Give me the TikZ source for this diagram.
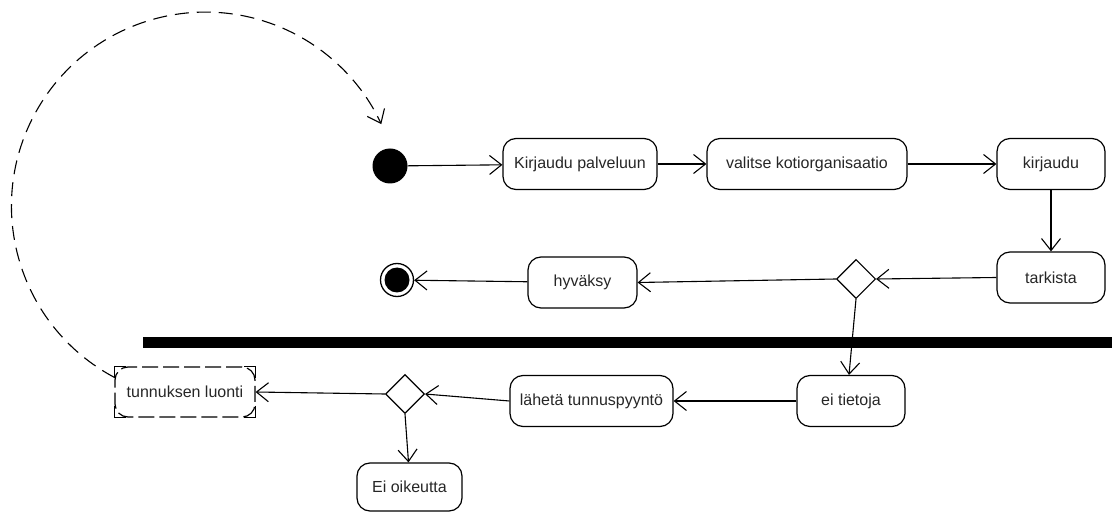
\documentclass[tikz,border=0pt]{standalone}
\usepackage{fontspec}
\setmainfont{Liberation Sans}
\usetikzlibrary{arrows.meta,shapes.geometric}
\begin{document}
\begin{tikzpicture}[x=1pt,y=-1pt,
  action/.style={draw,rounded corners=13pt,line width=1.2pt,minimum height=51pt,
    inner sep=0pt,font=\fontsize{16}{19}\selectfont,text=black!85},
  choice/.style={draw,diamond,line width=1.1pt,minimum width=39pt,minimum height=39pt,
    inner sep=0pt},
  flow/.style={line width=1.1pt,-{Straight Barb[length=12pt,width=19pt,line width=1.1pt]}},
  corner/.style={line width=1.1pt},
]
\useasboundingbox (0,0) rectangle (1112,513);

% start and end states
\node[fill=black,circle,minimum size=35pt,inner sep=0pt] (start) at (390,166) {};
\node[circle,draw,line width=1.3pt,minimum size=33pt,inner sep=0pt] (end) at (397,280) {};
\fill (end.center) circle[radius=12.5pt];

% actions of the upper lane
\node[action,minimum width=154pt] (login) at (580,164) {Kirjaudu palveluun};
\node[action,minimum width=200pt] (org) at (807,164) {valitse kotiorganisaatio};
\node[action,minimum width=108pt] (auth) at (1051,164) {kirjaudu};
\node[action,minimum width=108pt] (check) at (1051,277.5) {tarkista};
\node[choice] (d1) at (856,279) {};
\node[action,minimum width=109pt] (accept) at (582.5,282.5) {hyväksy};

% lane separator
\node[fill=black,minimum width=969pt,minimum height=10pt,inner sep=0pt] (bar) at (627.5,342.5) {};

% actions of the lower lane
\node[action,minimum width=108pt] (nodata) at (851,401) {ei tietoja};
\node[action,minimum width=163pt] (request) at (591.5,401) {lähetä tunnuspyyntö};
\node[choice] (d2) at (405,394) {};
\node[action,minimum width=105pt,minimum height=48pt] (denied) at (409.5,487) {Ei oikeutta};
\node[action,dash pattern=on 16pt off 5pt,minimum width=140pt,minimum height=50pt] (create) at (185,392) {tunnuksen luonti};

% square corner marks of the selected action
\draw[corner] ([yshift=-12pt]create.north west) -- (create.north west) -- ([xshift=12pt]create.north west);
\draw[corner] ([yshift=-12pt]create.north east) -- (create.north east) -- ([xshift=-12pt]create.north east);
\draw[corner] ([yshift=12pt]create.south west) -- (create.south west) -- ([xshift=12pt]create.south west);
\draw[corner] ([yshift=12pt]create.south east) -- (create.south east) -- ([xshift=-12pt]create.south east);

% control flow
\draw[flow] (start) -- (login);
\draw[flow] (login) -- (org);
\draw[flow] (org) -- (auth);
\draw[flow] (auth) -- (check);
\draw[flow] (check.west) -- (d1.east);
\draw[flow] (d1.west) -- (accept.east);
\draw[flow] (accept) -- (end);
\draw[flow] (d1.south) -- ([xshift=-2pt]nodata.north);
\draw[flow] (nodata) -- (request);
\draw[flow] (request.west) -- (d2.east);
\draw[flow] (d2.west) -- (create.east);
\draw[flow] (d2.south) -- ([xshift=-1pt]denied.north);

% loop back to the start
\draw[flow,dash pattern=on 14pt off 8pt] ([yshift=-11pt]create.north west)
  arc[start angle=242,end angle=25,radius=194pt] coordinate (loopend);
\end{tikzpicture}
\end{document}
